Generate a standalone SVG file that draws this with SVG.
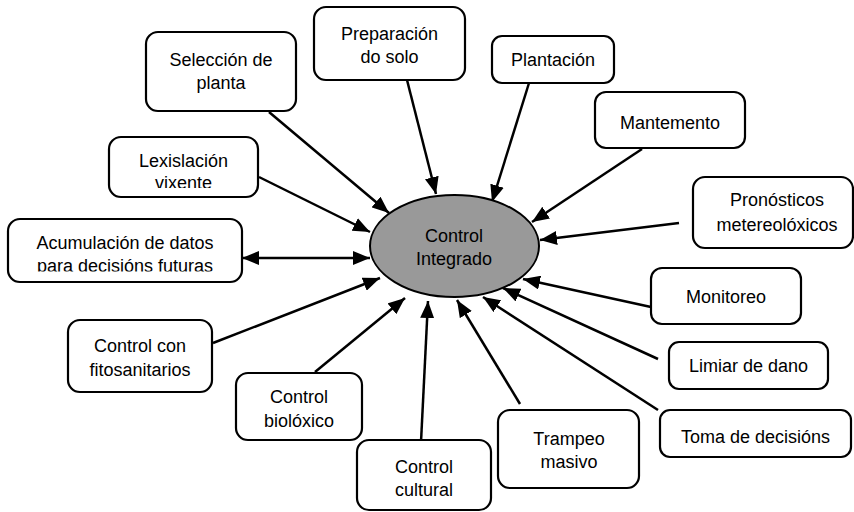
<svg xmlns="http://www.w3.org/2000/svg" width="854" height="512" viewBox="0 0 854 512">
<style>
.box{fill:#fff;stroke:#000;stroke-width:2.2}
.t{font-family:"Liberation Sans",Arial,sans-serif;font-size:18px;fill:#000;text-anchor:middle}
.c{fill:none;stroke:#000;stroke-width:2.5;marker-end:url(#ah)}
</style>
<defs>
<marker id="ah" markerUnits="userSpaceOnUse" markerWidth="18" markerHeight="14" refX="17" refY="7" orient="auto-start-reverse">
<path d="M0,0 L17,7 L0,14 z" fill="#000"/>
</marker>
<clipPath id="clipLex"><rect x="100" y="130" width="170" height="58"/></clipPath>
<clipPath id="clipAcu"><rect x="0" y="210" width="250" height="61.5"/></clipPath>
</defs>
<rect width="854" height="512" fill="#fff"/>
<g id="connectors">
<line class="c" x1="269" y1="112" x2="389" y2="213"/>
<line class="c" x1="407" y1="80" x2="436" y2="194"/>
<line class="c" x1="529" y1="83" x2="492" y2="202"/>
<line class="c" x1="642" y1="149" x2="532" y2="222"/>
<line class="c" x1="679" y1="223" x2="540" y2="240"/>
<line class="c" x1="651" y1="307" x2="523" y2="279"/>
<line class="c" x1="658" y1="359" x2="503" y2="288"/>
<line class="c" x1="658" y1="410" x2="483" y2="297"/>
<line class="c" x1="520" y1="404" x2="457" y2="300"/>
<line class="c" x1="421" y1="442" x2="428" y2="301"/>
<line class="c" x1="315" y1="372" x2="405" y2="298"/>
<line class="c" x1="213" y1="343" x2="380" y2="278"/>
<line class="c" x1="259" y1="177" x2="370" y2="232"/>
<line class="c" x1="242" y1="258" x2="370" y2="258" marker-start="url(#ah)"/>
</g>
<g id="center">
<ellipse cx="454.5" cy="246" rx="84.5" ry="51" fill="#999" stroke="#000" stroke-width="2"/>
<text class="t" x="454" y="242">Control</text>
<text class="t" x="454" y="265">Integrado</text>
</g>
<g id="seleccion">
<rect class="box" x="146" y="32" width="150" height="79" rx="12"/>
<text class="t" x="221" y="66">Selección de</text>
<text class="t" x="221" y="89">planta</text>
</g>
<g id="preparacion">
<rect class="box" x="314" y="7" width="151" height="73" rx="12"/>
<text class="t" x="389.5" y="40">Preparación</text>
<text class="t" x="389.5" y="63">do solo</text>
</g>
<g id="plantacion">
<rect class="box" x="492" y="36" width="122" height="47" rx="10"/>
<text class="t" x="553" y="66">Plantación</text>
</g>
<g id="mantemento">
<rect class="box" x="595" y="92" width="150" height="56" rx="11"/>
<text class="t" x="670" y="129">Mantemento</text>
</g>
<g id="pronosticos">
<rect class="box" x="693" y="177" width="160" height="71" rx="12"/>
<text class="t" x="777" y="206">Pronósticos</text>
<text class="t" x="777" y="231">metereolóxicos</text>
</g>
<g id="monitoreo">
<rect class="box" x="651" y="268" width="150" height="56" rx="11"/>
<text class="t" x="726" y="303">Monitoreo</text>
</g>
<g id="limiar">
<rect class="box" x="669" y="342" width="159" height="47" rx="10"/>
<text class="t" x="748.5" y="372">Limiar de dano</text>
</g>
<g id="toma">
<rect class="box" x="660" y="410" width="191" height="47" rx="10"/>
<text class="t" x="755.5" y="443">Toma de decisións</text>
</g>
<g id="trampeo">
<rect class="box" x="498" y="410" width="141" height="78" rx="12"/>
<text class="t" x="569" y="445">Trampeo</text>
<text class="t" x="569" y="468">masivo</text>
</g>
<g id="cultural">
<rect class="box" x="357" y="440" width="134" height="70" rx="12"/>
<text class="t" x="424" y="473">Control</text>
<text class="t" x="424" y="496">cultural</text>
</g>
<g id="biologico">
<rect class="box" x="236" y="373" width="126" height="67" rx="12"/>
<text class="t" x="299" y="403">Control</text>
<text class="t" x="299" y="427">biolóxico</text>
</g>
<g id="fitosanitarios">
<rect class="box" x="68" y="320" width="144" height="72" rx="12"/>
<text class="t" x="140" y="352">Control con</text>
<text class="t" x="140" y="376">fitosanitarios</text>
</g>
<g id="acumulacion">
<rect class="box" x="8" y="219" width="234" height="63" rx="12"/>
<g clip-path="url(#clipAcu)">
<text class="t" x="125" y="249">Acumulación de datos</text>
<text class="t" x="125" y="272">para decisións futuras</text>
</g>
</g>
<g id="lexislacion">
<rect class="box" x="109" y="137" width="149" height="60" rx="12"/>
<g clip-path="url(#clipLex)">
<text class="t" x="183.5" y="167">Lexislación</text>
<text class="t" x="183.5" y="189">vixente</text>
</g>
</g>
</svg>
